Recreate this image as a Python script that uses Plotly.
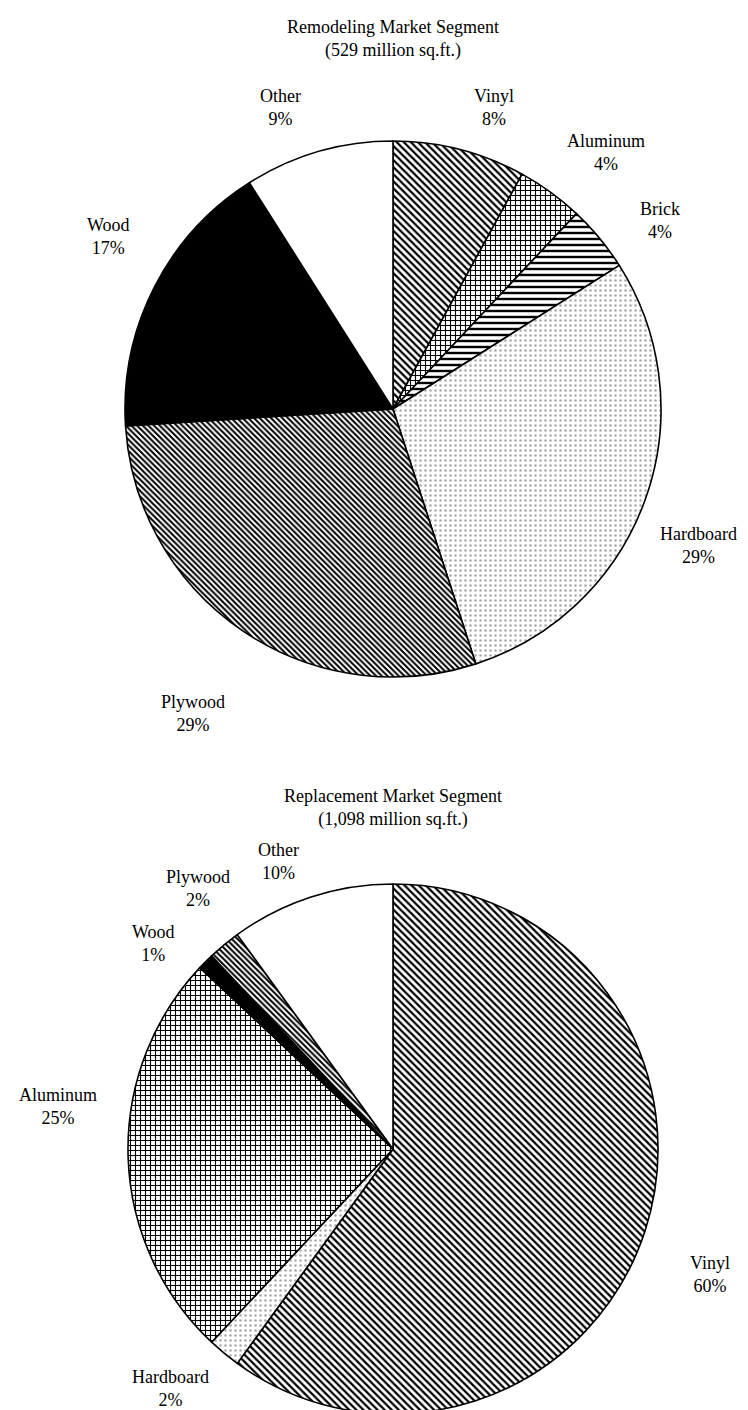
import plotly.graph_objects as go

W, H = 748, 1410

# ---- data ----
remodel_labels = ["Vinyl", "Aluminum", "Brick", "Hardboard", "Plywood", "Wood", "Other"]
remodel_values = [8, 4, 4, 29, 29, 17, 9]
replace_labels = ["Vinyl", "Hardboard", "Aluminum", "Wood", "Plywood", "Other"]
replace_values = [60, 2, 25, 1, 2, 10]
remodel_title = "Remodeling Market Segment<br>(529 million sq.ft.)"
replace_title = "Replacement Market Segment<br>(1,098 million sq.ft.)"

# ---- styles (per material) ----
styles = {
    "Vinyl":     dict(color="white", pattern=dict(shape="\\", fgcolor="black", bgcolor="white", size=5, solidity=0.45)),
    "Aluminum":  dict(color="white", pattern=dict(shape="+", fgcolor="black", bgcolor="white", size=5, solidity=0.4)),
    "Brick":     dict(color="white", pattern=dict(shape="-", fgcolor="black", bgcolor="white", size=6, solidity=0.4)),
    "Hardboard": dict(color="white", pattern=dict(shape=".", fgcolor="#a8a8a8", bgcolor="white", size=5, solidity=0.2)),
    "Plywood":   dict(color="white", pattern=dict(shape="\\", fgcolor="black", bgcolor="white", size=4, solidity=0.5)),
    "Wood":      dict(color="black", pattern=dict(shape="")),
    "Other":     dict(color="white", pattern=dict(shape="")),
}

def px_x(x):
    return x / W

def px_y(y):
    return 1 - y / H

def make_pie(labels, values, cx, cy, r):
    return go.Pie(
        labels=labels, values=values, sort=False, direction="clockwise", rotation=0,
        textinfo="none", hoverinfo="label+percent", showlegend=False,
        domain=dict(x=[px_x(cx - r), px_x(cx + r)], y=[px_y(cy + r), px_y(cy - r)]),
        marker=dict(
            colors=[styles[l]["color"] for l in labels],
            pattern=dict(
                shape=[styles[l]["pattern"]["shape"] for l in labels],
                fgcolor=[styles[l]["pattern"].get("fgcolor", "black") for l in labels],
                bgcolor=[styles[l]["pattern"].get("bgcolor", styles[l]["color"]) for l in labels],
                size=[styles[l]["pattern"].get("size", 6) for l in labels],
                solidity=[styles[l]["pattern"].get("solidity", 0.3) for l in labels],
                fillmode="replace",
            ),
            line=dict(color="black", width=1.6),
        ),
    )

fig = go.Figure()
fig.add_trace(make_pie(remodel_labels, remodel_values, 385, 401, 268))
fig.add_trace(make_pie(replace_labels, replace_values, 385, 1141, 265))

FONT = dict(family="Liberation Serif, Times New Roman, serif", size=18, color="black")

# label positions (pixel centres of the two-line labels)
remodel_pos = {
    "Vinyl": (486, 100), "Aluminum": (598, 145), "Brick": (652, 213),
    "Hardboard": (690, 537), "Plywood": (185, 705), "Wood": (100, 228), "Other": (272, 100),
}
replace_pos = {
    "Vinyl": (702, 1266), "Hardboard": (162, 1380), "Aluminum": (50, 1098),
    "Wood": (145, 935), "Plywood": (190, 880), "Other": (270, 853),
}

annotations = []
for labels, values, pos in [(remodel_labels, remodel_values, remodel_pos),
                            (replace_labels, replace_values, replace_pos)]:
    for l, v in zip(labels, values):
        x, y = pos[l]
        annotations.append(dict(
            x=px_x(x), y=px_y(y), xref="paper", yref="paper",
            text=f"{l}<br>{v}%", showarrow=False, font=FONT,
            xanchor="center", yanchor="middle", align="center",
        ))

annotations.append(dict(x=px_x(385), y=px_y(31), xref="paper", yref="paper",
                        text=remodel_title, showarrow=False, font=FONT,
                        xanchor="center", yanchor="middle", align="center"))
annotations.append(dict(x=px_x(385), y=px_y(800), xref="paper", yref="paper",
                        text=replace_title, showarrow=False, font=FONT,
                        xanchor="center", yanchor="middle", align="center"))

fig.update_layout(
    width=W, height=H,
    margin=dict(l=0, r=0, t=0, b=0),
    paper_bgcolor="white", plot_bgcolor="white",
    annotations=annotations,
)

fig.write_html("out.html")
